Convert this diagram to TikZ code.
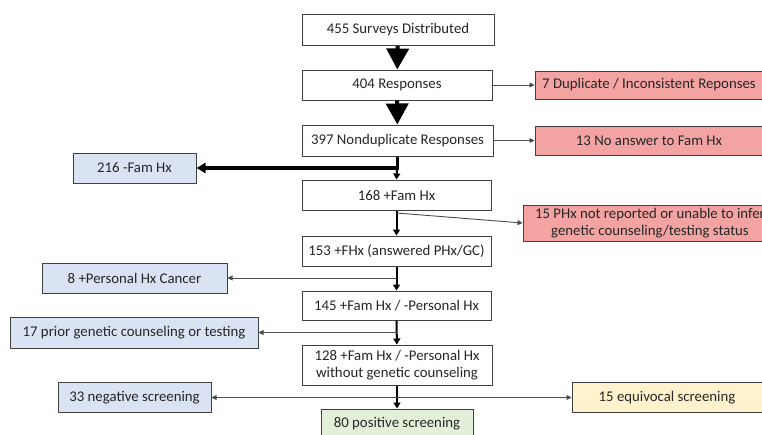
\documentclass[tikz,border=0pt]{standalone}
\usepackage{fontspec}
\setmainfont{Carlito}
\usetikzlibrary{arrows.meta}

\definecolor{boxline}{HTML}{404040}
\definecolor{pinkfill}{HTML}{F4A3A3}
\definecolor{bluefill}{HTML}{DAE3F3}
\definecolor{yellowfill}{HTML}{FFF2CC}
\definecolor{greenfill}{HTML}{E2F0D9}

\tikzset{
  flowbox/.style={draw=boxline, line width=1pt, fill=white, inner sep=2pt,
    align=center, font=\fontsize{14.8}{17.5}\selectfont, text=black!85},
  exclbox/.style={flowbox, fill=pinkfill},
  sidebox/.style={flowbox, fill=bluefill},
  bigarrow/.style={line width=4pt, -{Triangle[width=22pt,length=21pt]}},
  boldarrow/.style={line width=3.5pt, -{Triangle[width=10pt,length=9pt]}},
  mainarrow/.style={line width=2pt, -{Triangle[width=7pt,length=6pt]}},
  sidearrow/.style={line width=0.9pt, draw=black!55, -{Triangle[width=5pt,length=5pt]}, color=black!70}
}

\begin{document}
\begin{tikzpicture}[x=1pt, y=-1pt]
    \useasboundingbox (0,0) rectangle (762,434);
    \clip (0,0) rectangle (762,434);

    % main column
    \node[flowbox, minimum width=192pt, minimum height=31pt] (surveys) at (398,30) {455 Surveys Distributed};
    \node[flowbox, minimum width=190pt, minimum height=30pt] (responses) at (397,85) {404 Responses};
    \node[flowbox, minimum width=191pt, minimum height=31pt] (nondup) at (397.5,140.5) {397 Nonduplicate Responses};
    \node[flowbox, minimum width=189pt, minimum height=30pt] (famhx) at (396.5,195) {168 +Fam Hx};
    \node[flowbox, minimum width=189pt, minimum height=30pt] (answered) at (396.5,251) {153 +FHx (answered PHx/GC)};
    \node[flowbox, minimum width=189pt, minimum height=29pt] (nopers) at (396.5,305.5) {145 +Fam Hx / -Personal Hx};
    \node[flowbox, minimum width=190pt, minimum height=40pt] (nogc) at (397,365) {128 +Fam Hx / -Personal Hx\\without genetic counseling};
    \node[flowbox, fill=greenfill, minimum width=152pt, minimum height=30pt] (positive) at (397,424) {80 positive screening};

    % exclusions on the right
    \node[exclbox, minimum width=228pt, minimum height=28pt] (duplicate) at (649,85) {7 Duplicate / Inconsistent Reponses};
    \node[exclbox, minimum width=228pt, minimum height=29pt] (noanswer) at (649,140.5) {13 No answer to Fam Hx};
    \node[exclbox, minimum width=254pt, minimum height=36pt] (unknown) at (650,223) {15 PHx not reported or unable to infer\\genetic counseling/testing status};
    \node[flowbox, fill=yellowfill, minimum width=190pt, minimum height=30pt] (equivocal) at (667,397.5) {15 equivocal screening};

    % exclusions on the left
    \node[sidebox, minimum width=123pt, minimum height=30pt] (negfam) at (134.5,168) {216 -Fam Hx};
    \node[sidebox, minimum width=185pt, minimum height=30pt] (cancer) at (134.5,278) {8 +Personal Hx Cancer};
    \node[sidebox, minimum width=248pt, minimum height=31pt] (priorgc) at (134,332.5) {17 prior genetic counseling or testing};
    \node[sidebox, minimum width=153pt, minimum height=30pt] (negative) at (134.5,397.5) {33 negative screening};

    % branch points
    \coordinate (split1) at (397,168);
    \coordinate (split2) at (396.5,213);
    \coordinate (split3) at (396.5,278);
    \coordinate (split4) at (396.5,332.5);
    \coordinate (split5) at (397,397.5);

    % connectors
    \draw[bigarrow] (surveys) -- (responses);
    \draw[bigarrow] (responses) -- (nondup);
    \draw[sidearrow] (responses) -- (duplicate);
    \draw[sidearrow] (nondup) -- (noanswer);
    \draw[boldarrow] (nondup.south) |- (negfam.east);
    \draw[mainarrow] (split1) -- (famhx.north);
    \draw[mainarrow] (famhx) -- (answered);
    \draw[sidearrow] (split2) -- (unknown.west);
    \draw[mainarrow] (answered) -- (nopers);
    \draw[sidearrow] (split3) -- (cancer.east);
    \draw[mainarrow] (nopers) -- (nogc);
    \draw[sidearrow] (split4) -- (priorgc.east);
    \draw[mainarrow] (nogc) -- (positive);
    \draw[sidearrow] (split5) -- (negative.east);
    \draw[sidearrow] (split5) -- (equivocal.west);
\end{tikzpicture}
\end{document}
